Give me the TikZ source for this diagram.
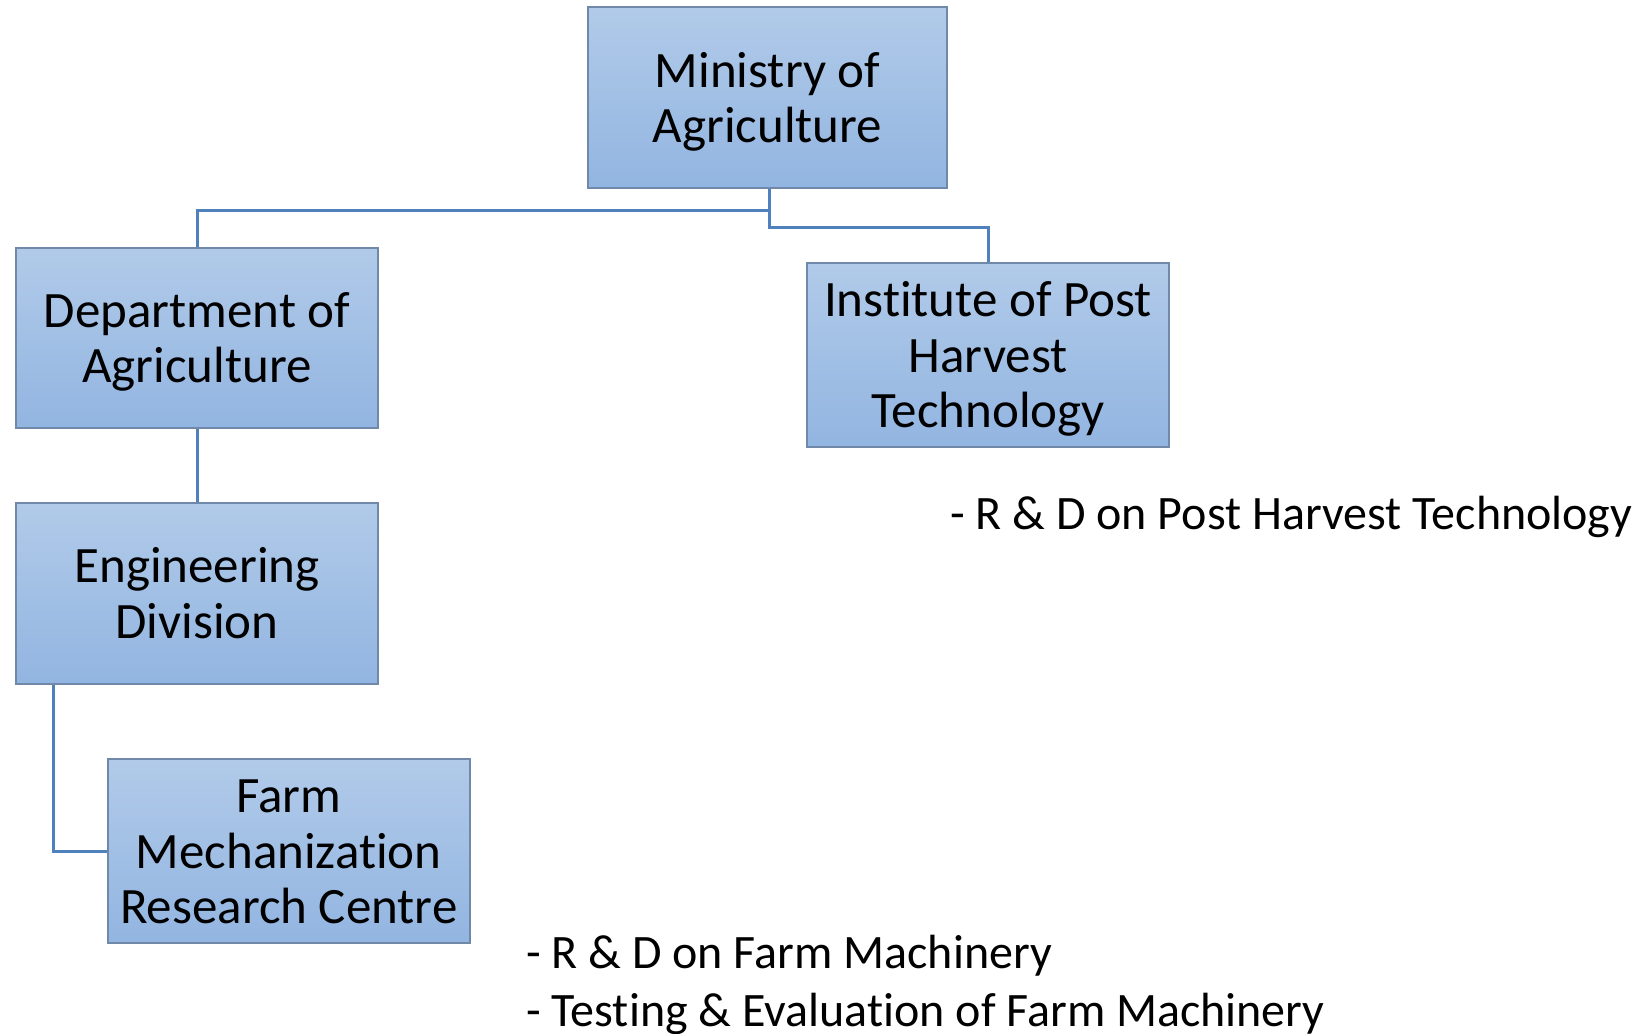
\documentclass[tikz,border=0pt]{standalone}
\usepackage{fontspec}
\setmainfont{Carlito}[Ligatures=NoCommon]
\definecolor{boxtop}{HTML}{B1CAE9}
\definecolor{boxbot}{HTML}{92B5E1}
\definecolor{boxline}{HTML}{7189A8}
\definecolor{conn}{HTML}{4F81BD}
\newcommand{\btxt}[1]{\raisebox{-6pt}[\height][\depth]{\begin{tabular}{@{}c@{}}#1\end{tabular}}}
\tikzset{
  orgbox/.style={draw=boxline, line width=2pt, top color=boxtop, bottom color=boxbot,
    inner sep=0pt, font=\fontsize{51}{55.5}\selectfont},
  link/.style={draw=conn, line width=3pt},
  note/.style={anchor=base west, inner sep=0pt, font=\fontsize{48}{52}\selectfont}
}
\begin{document}
\begin{tikzpicture}[x=1pt, y=-1pt]
\useasboundingbox (0,0) rectangle (1640,1033);
\node[orgbox, minimum width=359pt, minimum height=181pt] (min) at (767.5,97.7) {\btxt{Ministry of\\Agriculture}};
\node[orgbox, minimum width=362pt, minimum height=180pt] (dept) at (197,338) {\btxt{Department of\\Agriculture}};
\node[orgbox, minimum width=362pt, minimum height=181pt] (eng) at (197,593.5) {\btxt{Engineering\\Division}};
\node[orgbox, minimum width=362pt, minimum height=184pt] (inst) at (988,355) {\btxt{Institute of Post\\Harvest\\Technology}};
\node[orgbox, minimum width=362pt, minimum height=184pt] (farm) at (288.7,851) {\btxt{Farm\\Mechanization\\Research Centre}};
\coordinate (j1) at (769,210.5);
\coordinate (j2) at (769,227.5);
\coordinate (j3) at (53,851.7);
\draw[link] (min.south -| j1) -- (j2) -| (inst.north);
\draw[link] (j1) -| (dept.north);
\draw[link] (dept.south) -- (eng.north);
\draw[link] (eng.south -| j3) -- (j3) -- (farm.west |- j3);
\node[note] (n1) at (950,529) {- R \& D on Post Harvest Technology};
\node[note] (n2) at (526,968) {- R \& D on Farm Machinery};
\node[note] (n3) at (526,1026) {- Testing \& Evaluation of Farm Machinery};
\end{tikzpicture}
\end{document}
